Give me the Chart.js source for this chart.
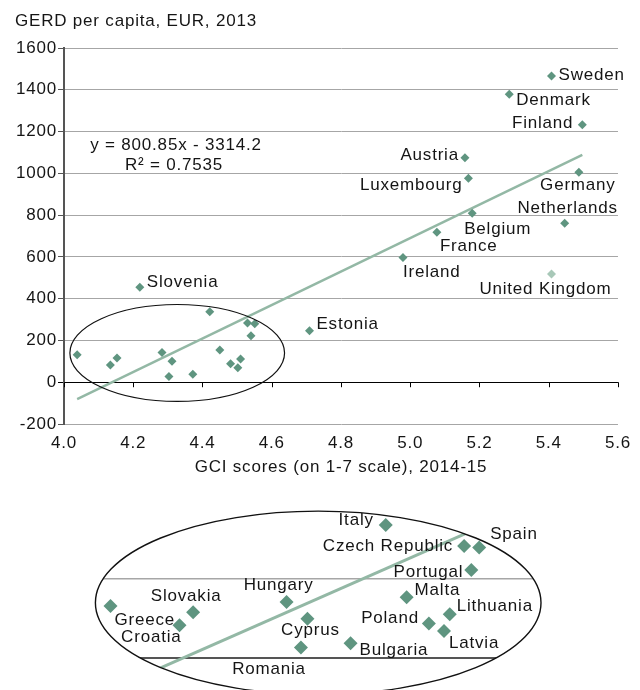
<!DOCTYPE html>
<html>
<head>
<meta charset="utf-8">
<script src="https://cdn.jsdelivr.net/npm/chart.js@4.4.1/dist/chart.umd.min.js"></script>
<style>
  body { margin: 0; background: #fff; }
  #wrap { position: relative; width: 640px; height: 690px; overflow: hidden; }
  canvas { position: absolute; left: 0; }
  #mainChart { top: 0; }
  #zoomChart { top: 490px; }
</style>
</head>
<body>
<div id="wrap">
  <canvas id="mainChart" width="640" height="490"></canvas>
  <canvas id="zoomChart" width="640" height="200"></canvas>
</div>
<script>
// GCI score vs GERD per capita (EUR), EU member states
const countries = ['Sweden', 'Denmark', 'Finland', 'Austria', 'Luxembourg', 'Germany', 'Belgium',
  'France', 'Netherlands', 'Ireland', 'United Kingdom', 'Estonia', 'Slovenia',
  'Greece', 'Slovakia', 'Croatia', 'Hungary', 'Cyprus', 'Romania', 'Bulgaria', 'Italy',
  'Czech Republic', 'Spain', 'Portugal', 'Malta', 'Lithuania', 'Poland', 'Latvia'];
const gciScore = [5.408, 5.286, 5.497, 5.158, 5.168, 5.487, 5.179,
  5.077, 5.446, 4.979, 5.408, 4.709, 4.219,
  4.038, 4.153, 4.134, 4.283, 4.312, 4.303, 4.372, 4.421,
  4.530, 4.551, 4.540, 4.450, 4.510, 4.481, 4.502];
const gerdPerCapita = [1466, 1379, 1232, 1075, 977, 1005, 809,
  718, 761, 597, 518, 247, 455,
  132, 116, 83, 142, 100, 27, 38, 337,
  284, 280, 223, 154, 111, 88, 69];
// countries inside the ring, repeated in the enlarged view below
const zoomedCountries = ['Greece', 'Slovakia', 'Croatia', 'Hungary', 'Cyprus', 'Romania', 'Bulgaria',
  'Italy', 'Czech Republic', 'Spain', 'Portugal', 'Malta', 'Lithuania', 'Poland', 'Latvia'];
const fadedCountries = ['United Kingdom'];

// linear trend
const trendSlope = 800.85;
const trendIntercept = -3314.2;
const trendR2 = 0.7535;

const POINT = '#5f9580';
const POINT_FADED = '#a8c8b8';
const TREND = '#93b8a5';
const FONT = '"Liberation Sans", Arial, Helvetica, sans-serif';
const TEXT = '#151515';

Chart.defaults.font.family = FONT;
Chart.defaults.font.size = 17;
Chart.defaults.color = TEXT;

// where each name sits next to its marker: [align, dx, dy]
const mainLabelSpots = {
  'Sweden': ['left', 7, -1],
  'Denmark': ['left', 7, 6],
  'Finland': ['right', -9, -2],
  'Austria': ['right', -6, -2],
  'Luxembourg': ['right', -6, 7],
  'Germany': ['center', -1, 13],
  'Netherlands': ['center', 3, -15],
  'Belgium': ['left', -8, 16],
  'France': ['left', 3, 14],
  'Ireland': ['left', 0, 15],
  'United Kingdom': ['center', -6, 15],
  'Estonia': ['left', 7, -6],
  'Slovenia': ['left', 7, -5]
};
const zoomLabelSpots = {
  'Greece': ['left', 4, 14],
  'Slovakia': ['center', -7, -16],
  'Croatia': ['right', 2, 12],
  'Hungary': ['center', -8, -17],
  'Cyprus': ['center', 3, 12],
  'Romania': ['center', -32, 22],
  'Bulgaria': ['left', 9, 7],
  'Italy': ['right', -12, -5],
  'Czech Republic': ['right', -11, 0],
  'Spain': ['left', 11, -13],
  'Portugal': ['right', -8, 2],
  'Malta': ['left', 8, -7],
  'Lithuania': ['left', 7, -8],
  'Poland': ['right', -10, -5],
  'Latvia': ['left', 5, 12]
};

// ring around the low-score group, in data units
const ring = { x: 4.327, y: 140, rx: 0.31, ry: 232 };

function ringPath(chart) {
  const xs = chart.scales.x, ys = chart.scales.y;
  const cx = xs.getPixelForValue(ring.x);
  const cy = ys.getPixelForValue(ring.y);
  const rx = xs.getPixelForValue(ring.x + ring.rx) - cx;
  const ry = cy - ys.getPixelForValue(ring.y + ring.ry);
  chart.ctx.beginPath();
  chart.ctx.ellipse(cx, cy, rx, ry, 0, 0, Math.PI * 2);
}

function pointsFor(names) {
  return names.map(n => {
    const i = countries.indexOf(n);
    return { x: gciScore[i], y: gerdPerCapita[i] };
  });
}
function colorsFor(names) {
  return names.map(n => fadedCountries.includes(n) ? POINT_FADED : POINT);
}

const xMin = Math.min(...gciScore), xMax = Math.max(...gciScore);
const trendPts = [
  { x: xMin, y: trendSlope * xMin + trendIntercept },
  { x: xMax, y: trendSlope * xMax + trendIntercept }
];

// text tracking a little wider than the canvas default
Chart.register({
  id: 'tracking',
  beforeLayout(c) { c.ctx.letterSpacing = '0.8px'; },
  beforeDraw(c) { c.ctx.letterSpacing = '0.8px'; }
});

function nameLabels(names, spots) {
  return {
    id: 'nameLabels',
    afterDraw(chart) {
      const ctx = chart.ctx;
      const meta = chart.getDatasetMeta(0);
      ctx.save();
      ctx.font = '17px ' + FONT;
      ctx.fillStyle = TEXT;
      ctx.textBaseline = 'middle';
      meta.data.forEach((el, k) => {
        const s = spots[names[k]];
        if (!s) return;
        ctx.textAlign = s[0];
        ctx.fillText(names[k], el.x + s[1], el.y + s[2]);
      });
      ctx.restore();
    }
  };
}

const ringOutline = {
  id: 'ringOutline',
  afterDatasetsDraw(chart, args, opts) {
    const ctx = chart.ctx;
    ctx.save();
    ringPath(chart);
    ctx.strokeStyle = '#111';
    ctx.lineWidth = opts.width || 1;
    ctx.stroke();
    ctx.restore();
  }
};

const mainExtras = {
  id: 'mainExtras',
  afterDraw(chart) {
    const ctx = chart.ctx;
    const xs = chart.scales.x, ys = chart.scales.y;
    ctx.save();
    // small ticks hanging under the zero line
    const y0 = ys.getPixelForValue(0);
    ctx.strokeStyle = '#000';
    ctx.lineWidth = 1;
    xs.ticks.forEach(t => {
      const px = Math.round(xs.getPixelForValue(t.value)) + 0.5;
      ctx.beginPath();
      ctx.moveTo(px, y0);
      ctx.lineTo(px, y0 + 5);
      ctx.stroke();
    });
    ctx.font = '17px ' + FONT;
    ctx.fillStyle = TEXT;
    ctx.textBaseline = 'middle';
    ctx.textAlign = 'left';
    ctx.fillText('GERD per capita, EUR, 2013', 15, 21);
    ctx.textAlign = 'center';
    ctx.fillText('y = ' + trendSlope + 'x - ' + Math.abs(trendIntercept), 176, 145);
    ctx.fillText('R² = ' + trendR2, 174, 165);
    ctx.restore();
  }
};

new Chart(document.getElementById('mainChart'), {
  type: 'scatter',
  data: {
    datasets: [{
      data: pointsFor(countries),
      pointStyle: 'rectRot',
      pointRadius: 4.5,
      pointBorderWidth: 0,
      backgroundColor: colorsFor(countries)
    }, {
      data: trendPts,
      showLine: true,
      borderColor: TREND,
      borderWidth: 2.5,
      pointRadius: 0
    }]
  },
  options: {
    responsive: false,
    animation: false,
    events: [],
    layout: { padding: { top: 48, right: 21, left: 0, bottom: 0 } },
    plugins: { legend: { display: false }, tooltip: { enabled: false }, ringOutline: { width: 1.2 } },
    scales: {
      x: {
        type: 'linear',
        min: 4.0,
        max: 5.6,
        ticks: { stepSize: 0.2, padding: 9, autoSkip: false, maxRotation: 0, callback: v => v.toFixed(1) },
        grid: { display: false, drawTicks: false },
        border: { display: false },
        title: { display: true, text: 'GCI scores (on 1-7 scale), 2014-15', padding: { top: 0, bottom: 12 } },
        afterFit: s => { s.height = 66; }
      },
      y: {
        min: -200,
        max: 1600,
        ticks: { stepSize: 200, padding: 1, callback: v => String(v) },
        grid: {
          color: c => c.tick && c.tick.value === 0 ? '#000' : '#a6a6a6',
          tickColor: c => c.tick && c.tick.value === 0 ? '#000' : '#555',
          tickLength: 6,
          lineWidth: 1
        },
        border: { color: '#555', width: 2 },
        afterFit: s => { s.width = 64; }
      }
    }
  },
  plugins: [ringOutline, nameLabels(countries, mainLabelSpots), mainExtras]
});

// enlarged view: grid and trend seen only through the ring
const ringClip = {
  id: 'ringClip',
  beforeDraw(chart) {
    chart.ctx.save();
    ringPath(chart);
    chart.ctx.clip();
  },
  afterDatasetDraw(chart, args) {
    if (args.index === 1) chart.ctx.restore();
  }
};

new Chart(document.getElementById('zoomChart'), {
  type: 'scatter',
  data: {
    datasets: [{
      data: pointsFor(zoomedCountries),
      pointStyle: 'rectRot',
      pointRadius: 7,
      pointBorderWidth: 0,
      backgroundColor: colorsFor(zoomedCountries)
    }, {
      data: trendPts,
      showLine: true,
      borderColor: TREND,
      borderWidth: 3,
      pointRadius: 0
    }]
  },
  options: {
    responsive: false,
    animation: false,
    events: [],
    layout: { padding: 0 },
    plugins: { legend: { display: false }, tooltip: { enabled: false }, ringOutline: { width: 1.4 } },
    scales: {
      x: { type: 'linear', display: false, min: 3.894, max: 4.765 },
      y: {
        min: -62.8,
        max: 407.8,
        afterBuildTicks: s => { s.ticks = [{ value: 0 }, { value: 200 }]; },
        ticks: { display: false },
        grid: {
          drawTicks: false,
          color: c => c.tick && c.tick.value === 0 ? '#555' : '#a6a6a6',
          lineWidth: c => c.tick && c.tick.value === 0 ? 2 : 1.5
        },
        border: { display: false }
      }
    }
  },
  plugins: [ringClip, ringOutline, nameLabels(zoomedCountries, zoomLabelSpots)]
});
</script>
</body>
</html>
